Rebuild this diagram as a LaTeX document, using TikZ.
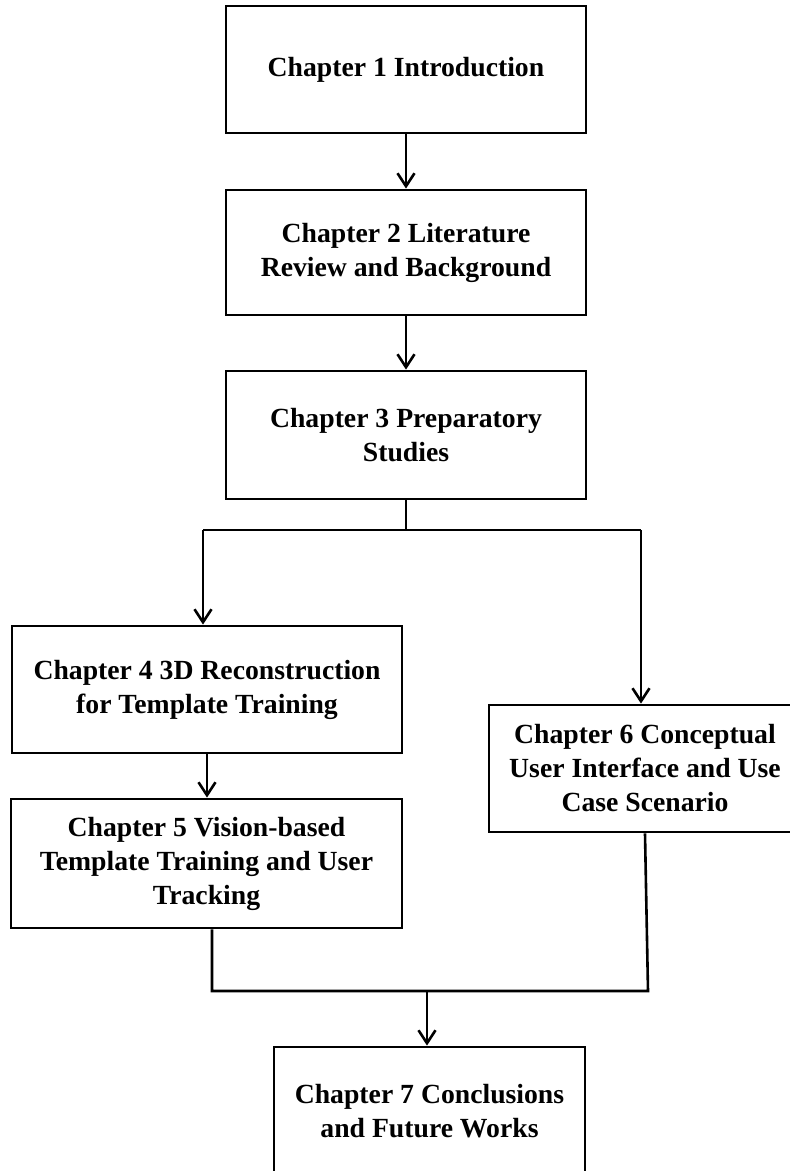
\documentclass[tikz,border=0pt]{standalone}
\usepackage{fontspec}
\setmainfont{Liberation Serif}
\usetikzlibrary{arrows.meta}
\begin{document}
\begin{tikzpicture}[x=1pt,y=-1pt,
  chapbox/.style={draw=black,line width=2.8pt,rectangle,align=center,inner sep=0pt,
    font=\fontsize{27.7}{34}\selectfont\bfseries},
  link/.style={draw=black,line width=2.6pt},
  flow/.style={link,-{Straight Barb[length=13pt,width=17pt,line width=2.6pt]}}]
\clip (0,0) rectangle (790,1171);
\fill[white] (0,0) rectangle (790,1171);

% chapter boxes
\node[chapbox,minimum width=360pt,minimum height=127pt] (c1) at (406,69.5) {\raisebox{-2pt}{Chapter 1 Introduction}};
\node[chapbox,minimum width=360pt,minimum height=125pt] (c2) at (406,252.5) {Chapter 2 Literature\\Review and Background};
\node[chapbox,minimum width=360pt,minimum height=128pt] (c3) at (406,435) {Chapter 3 Preparatory\\Studies};
\node[chapbox,minimum width=390pt,minimum height=127pt] (c4) at (207,689.5) {Chapter 4 3D Reconstruction\\for Template Training};
\node[chapbox,minimum width=391pt,minimum height=129pt] (c5) at (206.5,863.5) {Chapter 5 Vision-based\\Template Training and User\\Tracking};
\node[chapbox,minimum width=312pt,minimum height=127pt] (c6) at (645,768.5) {Chapter 6 Conceptual\\User Interface and Use\\Case Scenario};
\node[chapbox,minimum width=311pt,minimum height=128pt] (c7) at (429.5,1111) {Chapter 7 Conclusions\\and Future Works};

% straight sequence
\draw[flow] (c1.south) -- (c2.north);
\draw[flow] (c2.south) -- (c3.north);

% split after chapter 3
\coordinate (j) at (406,530);
\coordinate (jl) at (203,530);
\coordinate (jr) at (641,530);
\draw[link] (c3.south) -- (j);
\draw[link] (jl) -- (jr);
\draw[flow] (jl) -- (jl |- c4.north);
\draw[flow] (jr) -- (jr |- c6.north);

\draw[flow] (c4.south) -- (c4.south |- c5.north);

% merge into chapter 7
\coordinate (ml) at (212,991);
\coordinate (mr) at (648,991);
\coordinate (mc) at (427,991);
\draw[link] (c5.south -| ml) -- (ml) -- (mr) -- (c6.south);
\draw[flow] (mc) -- (mc |- c7.north);
\end{tikzpicture}
\end{document}
